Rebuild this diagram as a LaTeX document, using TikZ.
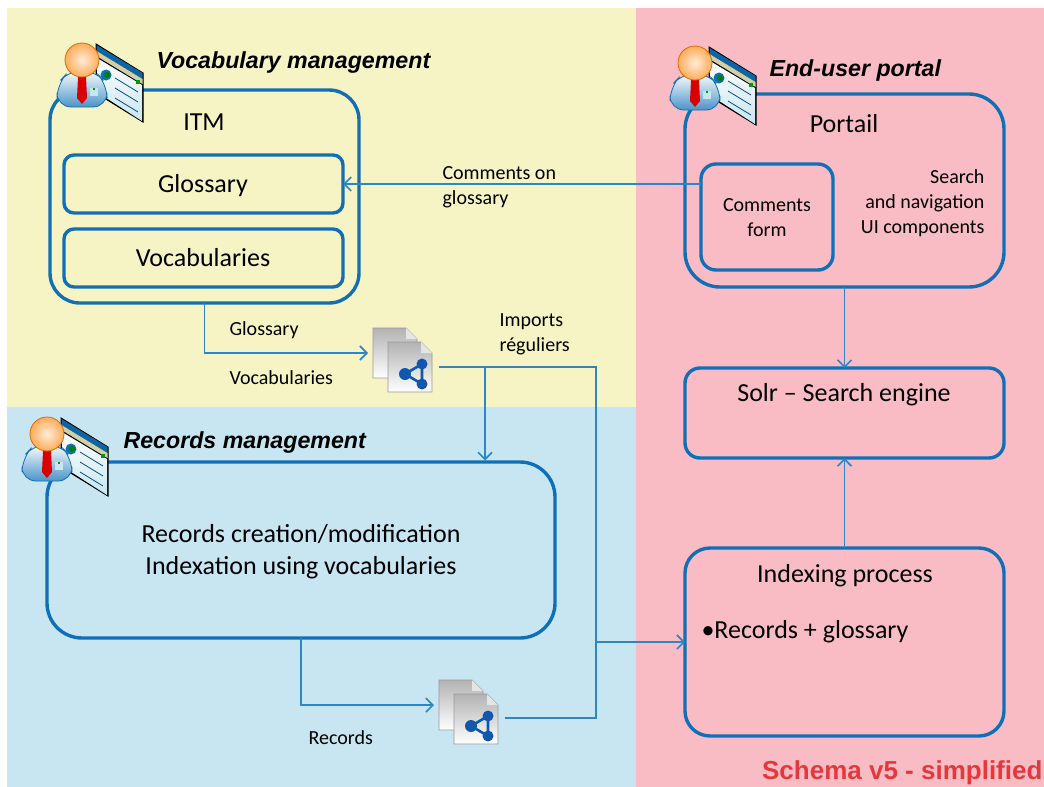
\documentclass[tikz,border=0pt]{standalone}
\usepackage{fontspec}
\setmainfont{Carlito}
\newfontfamily\headfont{Liberation Sans}
\usetikzlibrary{arrows.meta}
\definecolor{panelyellow}{HTML}{F6F3C5}
\definecolor{panelblue}{HTML}{C7E6F2}
\definecolor{panelpink}{HTML}{FABCC4}
\definecolor{boxblue}{HTML}{0F70B7}
\definecolor{linkblue}{HTML}{2F86C6}
\definecolor{docblue}{HTML}{1257AE}
\definecolor{schemared}{HTML}{E3393C}
\tikzset{
	bluebox/.style={draw=boxblue, line width=3.4pt, outer sep=0pt, inner sep=0pt},
	link/.style={draw=linkblue, line width=1.7pt, -{Straight Barb[length=7pt,width=14pt,line width=1.6pt]}},
	linkplain/.style={draw=linkblue, line width=1.7pt},
	headtext/.style={font=\headfont\bfseries\itshape\fontsize{23.2}{23.2}\selectfont, anchor=west},
	bigtext/.style={font=\fontsize{26}{32}\selectfont, align=center},
	midtext/.style={font=\fontsize{26}{30}\selectfont, align=center},
	smalltext/.style={font=\fontsize{20}{25}\selectfont, align=left, anchor=west},
	usericon/.pic={
		% window behind the person
		\draw [fill=white, line width=1pt, black] (14,-16) -- (61,13) -- (61,62) -- (14,33) -- cycle;
		\fill [top color=white, bottom color=panelblue] (15,-2) -- (60,25) -- (60,61) -- (15,32) -- cycle;
		\fill [boxblue!90!black] (14.5,-15) -- (60.5,13) -- (60.5,19) -- (14.5,-9) -- cycle;
		\fill [black!15!panelyellow] (14.5,-9) -- (60.5,19) -- (60.5,24) -- (14.5,-4) -- cycle;
		\fill [green!60!black] (54,20) rectangle (58,24);
		\fill [boxblue] (24,15) circle [radius=5.5];
		\fill [green!50!black] (25,15) circle [radius=3];
		\foreach \i in {0,1,2} {
			\draw [boxblue!70!black, line width=0.8pt] (33,{18+\i*10}) -- (56,{32+\i*10});
		}
		% body, tie and head
		\draw [draw=boxblue, line width=0.8pt, top color=white, bottom color=boxblue!75!white, rounded corners=14pt] (-25,47) -- (-25,24) -- (-12,10) -- (12,10) -- (25,24) -- (25,47) -- cycle;
		\fill [red!85!black] (-4,17) -- (4,17) -- (5,38) -- (0,44) -- (-5,38) -- cycle;
		\fill [panelblue] (8,28) rectangle (16,36);
		\fill [green!60!black] (11,28) rectangle (13,30);
		\draw [draw=orange!85!black, line width=0.8pt, inner color=orange!15!white, outer color=orange!65!white] (0,0) circle [radius=17];
	},
	docpage/.pic={
		\draw [draw=black!40, line width=0.8pt, top color=black!30, bottom color=white] (0,0) -- (33,0) -- (44,11) -- (44,50) -- (0,50) -- cycle;
		\fill [black!10] (33,0) -- (33,11) -- (44,11) -- cycle;
	},
	docicon/.pic={
		\pic at (0,0) {docpage};
		\pic at (15,14) {docpage};
		\draw [docblue, line width=2.6pt] (49,36) -- (32,46) -- (49,56) -- cycle;
		\fill [docblue] (49,36) circle [radius=5.5];
		\fill [docblue] (32,46) circle [radius=6];
		\fill [docblue] (49,56) circle [radius=5.5];
	}
}
\begin{document}
\begin{tikzpicture}[x=1pt, y=-1pt, >=Straight Barb]
	\useasboundingbox (0,0) rectangle (1044,787);
	\fill [white] (0,0) rectangle (1044,787);
	
	\fill [panelyellow] (7,8) rectangle (636,407);
	\fill [panelblue] (7,407) rectangle (636,787);
	\fill [panelpink] (636,8) rectangle (1044,787);
	
	\node (itm) [bluebox, rounded corners=30pt, minimum width=309pt, minimum height=213pt] at (204.5,196.5) {};
	\node (glossary) [bluebox, rounded corners=10pt, minimum width=279pt, minimum height=58pt] at (203.5,184) {};
	\node (vocabularies) [bluebox, rounded corners=10pt, minimum width=279pt, minimum height=58pt] at (203.5,258) {};
	\node (portail) [bluebox, rounded corners=35pt, minimum width=319pt, minimum height=193pt] at (844.5,190.5) {};
	\node (commentsform) [bluebox, rounded corners=15pt, minimum width=132pt, minimum height=106pt] at (767,217) {};
	\node (solr) [bluebox, rounded corners=15pt, minimum width=319pt, minimum height=90pt] at (844.5,413) {};
	\node (records) [bluebox, rounded corners=35pt, minimum width=508pt, minimum height=176pt] at (301,550) {};
	\node (indexing) [bluebox, rounded corners=25pt, minimum width=319pt, minimum height=188pt] at (844.5,642) {};
	
	\pic at (82,60) {usericon};
	\pic at (695,63) {usericon};
	\pic at (47,434) {usericon};
	\pic at (373,328) {docicon};
	\pic at (439,680) {docicon};
	
	\coordinate (vocin) at (368,353);
	\coordinate (vocout) at (439,367);
	\coordinate (recin) at (434,705);
	\coordinate (recout) at (505,718);
	
	\draw [link] (commentsform.west |- glossary.east) -- (glossary.east);
	\draw [link] (itm.south) -- (vocin -| itm.south) -- (vocin);
	\draw [linkplain] (vocout) -- (596,367) -- (596,718) -- (recout);
	\draw [link] (485,367) -- (485,460.5);
	\draw [link] (596,642) -- (indexing.west);
	\draw [link] (records.south) -- (recin -| records.south) -- (recin);
	\draw [link] (portail.south) -- (solr.north);
	\draw [link] (indexing.north) -- (solr.south);
	
	\node (voctitle) [headtext] at (153,63) {Vocabulary management};
	\node (portaltitle) [headtext] at (766,71) {End-user portal};
	\node (rectitle) [headtext] at (120,442) {Records management};
	
	\node (itmtext) [midtext] at (204,122) {ITM};
	\node (glosstext) [midtext] at (203,186) {Glossary};
	\node (voctext) [midtext] at (203,258) {Vocabularies};
	\node (portailtext) [midtext] at (844,124) {Portail};
	\node (formtext) [smalltext, align=center, anchor=center] at (767,218) {Comments\\form};
	\node (uitext) [smalltext, align=right, anchor=east] at (988,203) {Search\\and navigation\\UI components};
	\node (linktext) [smalltext] at (439,187) {Comments on\\glossary};
	\node (glosslabel) [smalltext] at (226,330) {Glossary};
	\node (voclabel) [smalltext] at (226,378) {Vocabularies};
	\node (importtext) [smalltext] at (496,334) {Imports\\réguliers};
	\node (reclabel) [smalltext] at (305,738) {Records};
	\node (solrtext) [midtext] at (844,395) {Solr – Search engine};
	\node (recordstext) [bigtext] at (301,552) {Records creation/modification\\Indexation using vocabularies};
	\node (indextext) [midtext] at (845,576) {Indexing process};
	\node (bullettext) [midtext, anchor=west] at (698,632) {•Records + glossary};
	\node (schematext) [font=\headfont\bfseries\fontsize{26}{26}\selectfont, text=schemared, anchor=east] at (1046,773) {Schema v5 - simplified};
	
\end{tikzpicture}
\end{document}
